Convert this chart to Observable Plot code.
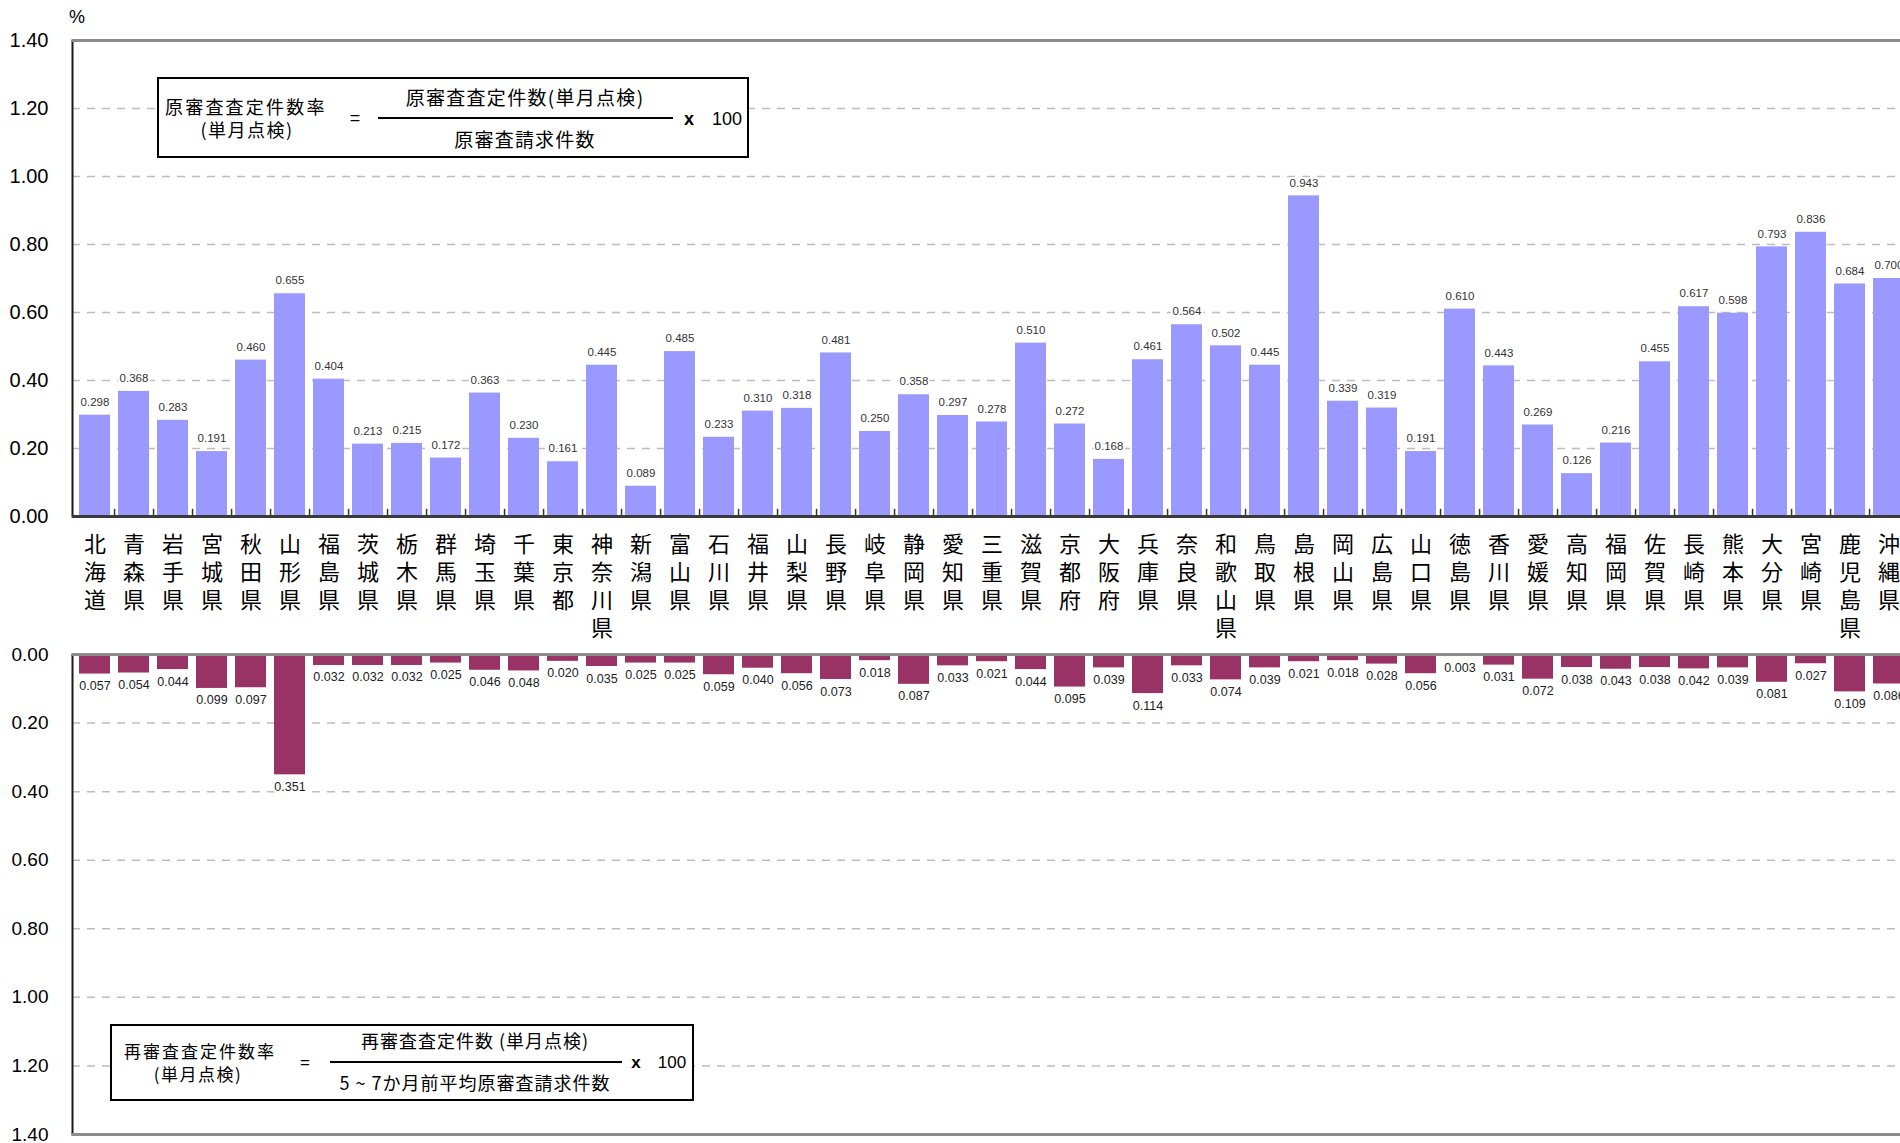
<!DOCTYPE html>
<html><head><meta charset="utf-8">
<script src="https://cdn.jsdelivr.net/npm/d3@7"></script>
<script src="https://cdn.jsdelivr.net/npm/@observablehq/plot@0.6"></script>
<style>
body{margin:0;overflow:hidden;background:#fff;}
#wrap{position:relative;width:1900px;height:1143px;overflow:hidden;font-family:"Liberation Sans",Arial,"Noto Sans CJK JP",sans-serif;color:#000;}
#wrap svg{position:absolute;left:0;}
.abs{position:absolute;white-space:nowrap;line-height:1;}
.c{transform:translate(-50%,-50%);}
.l{transform:translate(0,-50%);}
.jp{font-family:"Noto Sans CJK JP",sans-serif;}
.box{position:absolute;border:2px solid #000;background:#fff;box-sizing:border-box;}
.bar{position:absolute;background:#000;height:2px;}
</style></head>
<body><div id="wrap"></div>
<script>
const prefectures = ["北海道","青森県","岩手県","宮城県","秋田県","山形県","福島県","茨城県","栃木県","群馬県","埼玉県","千葉県","東京都","神奈川県","新潟県","富山県","石川県","福井県","山梨県","長野県","岐阜県","静岡県","愛知県","三重県","滋賀県","京都府","大阪府","兵庫県","奈良県","和歌山県","鳥取県","島根県","岡山県","広島県","山口県","徳島県","香川県","愛媛県","高知県","福岡県","佐賀県","長崎県","熊本県","大分県","宮崎県","鹿児島県","沖縄県"];
const originalRate = [0.298,0.368,0.283,0.191,0.460,0.655,0.404,0.213,0.215,0.172,0.363,0.230,0.161,0.445,0.089,0.485,0.233,0.310,0.318,0.481,0.250,0.358,0.297,0.278,0.510,0.272,0.168,0.461,0.564,0.502,0.445,0.943,0.339,0.319,0.191,0.610,0.443,0.269,0.126,0.216,0.455,0.617,0.598,0.793,0.836,0.684,0.700];
const reviewRate = [0.057,0.054,0.044,0.099,0.097,0.351,0.032,0.032,0.032,0.025,0.046,0.048,0.020,0.035,0.025,0.025,0.059,0.040,0.056,0.073,0.018,0.087,0.033,0.021,0.044,0.095,0.039,0.114,0.033,0.074,0.039,0.021,0.018,0.028,0.056,0.003,0.031,0.072,0.038,0.043,0.038,0.042,0.039,0.081,0.027,0.109,0.086];
const yTicks = [0,0.2,0.4,0.6,0.8,1.0,1.2,1.4];
const gridTicks = [0.2,0.4,0.6,0.8,1.0,1.2];

const data = prefectures.map((p,i)=>({name:p, orig:originalRate[i], rev:reviewRate[i]}));

const W = 1900, ML = 72, MR = -10, PI = 0.215, PO = 0.1;
const step = (W - MR - ML) / (prefectures.length - PI + 2*PO);
const xOpt = {domain: prefectures, paddingInner: PI, paddingOuter: PO, align: 0.5, axis: null};
const numFont = '"Liberation Sans", Arial, sans-serif';
const fmt2 = d3.format(".2f");
const grid = Plot.ruleY(gridTicks, {stroke:"#bdbdbd", strokeWidth:1.5, strokeDasharray:"8,7"});

const topChart = Plot.plot({
  width: W, height: 640, marginLeft: ML, marginRight: MR, marginTop: 40, marginBottom: 124,
  x: xOpt,
  y: {domain:[0,1.4], axis:null, label:null},
  style: {fontFamily: numFont, background:"transparent", overflow:"visible"},
  marks: [
    grid,
    Plot.barY(data, {x:"name", y:"orig", fill:"#9999FF"}),
    Plot.ruleX(data, {x:"name", y1:0, y2:0.021, dx: step/2, stroke:"#333", strokeWidth:1.5}),
    Plot.frame({stroke:"#1a1a1a", strokeWidth:2}),
    Plot.ruleY([1.4], {stroke:"#8c8c8c", strokeWidth:3}),
    Plot.ruleY([0], {stroke:"#3a3a3a", strokeWidth:3}),
    Plot.text(data, {x:"name", y:"orig", text: d=>d.orig.toFixed(3), dy:-13, fontSize:11.5, fill:"#333", stroke:"white", strokeWidth:4}),
    Plot.text(data, {x:"name", y:0, text: d=>[...d.name].join("\n"), lineAnchor:"top", dy:15, fontSize:22, lineHeight:1.286, fontFamily:'"Noto Sans CJK JP", sans-serif', fill:"#000"}),
    Plot.axisY(yTicks, {tickSize:0, tickPadding:24, tickFormat: fmt2, fontSize:20, fill:"#000", label:null})
  ]
});

const bottomChart = Plot.plot({
  width: W, height: 503, marginLeft: ML, marginRight: MR, marginTop: 14, marginBottom: 9,
  x: xOpt,
  y: {domain:[0,1.4], reverse:true, axis:null, label:null},
  style: {fontFamily: numFont, background:"transparent", overflow:"visible"},
  marks: [
    grid,
    Plot.barY(data, {x:"name", y:"rev", fill:"#993366"}),
    Plot.frame({stroke:"#1a1a1a", strokeWidth:2}),
    Plot.ruleY([0], {stroke:"#8c8c8c", strokeWidth:3}),
    Plot.ruleY([1.4], {stroke:"#8c8c8c", strokeWidth:3}),
    Plot.text(data, {x:"name", y:"rev", text: d=>d.rev.toFixed(3), dy:12, fontSize:12.5, fill:"#222", stroke:"white", strokeWidth:4}),
    Plot.axisY(yTicks, {tickSize:0, tickPadding:24, tickFormat: fmt2, fontSize:19, fill:"#000", label:null})
  ]
});

const wrap = document.getElementById("wrap");
topChart.style.top = "0px";
bottomChart.style.top = "640px";
wrap.appendChild(topChart);
wrap.appendChild(bottomChart);

function addText(txt, x, y, size, cls, extra){
  const d = document.createElement("div");
  d.className = "abs " + cls;
  d.textContent = txt;
  d.style.left = x + "px"; d.style.top = y + "px"; d.style.fontSize = size + "px";
  if (extra) Object.assign(d.style, extra);
  wrap.appendChild(d);
}
function addBox(x, y, w, h){
  const d = document.createElement("div");
  d.className = "box";
  Object.assign(d.style, {left:x+"px", top:y+"px", width:w+"px", height:h+"px"});
  wrap.appendChild(d);
}
function addLine(x, y, w){
  const d = document.createElement("div");
  d.className = "bar";
  Object.assign(d.style, {left:x+"px", top:y+"px", width:w+"px"});
  wrap.appendChild(d);
}

addText("%", 77, 17, 18, "c");

// top formula box
addBox(157, 77, 592, 81);
addText("原審査査定件数率", 165, 106, 18, "l jp", {letterSpacing:"2.2px"});
addText("(単月点検)", 247, 128.5, 18, "c jp", {letterSpacing:"1.5px"});
addText("=", 355, 118, 18, "c");
addLine(378, 116.5, 295);
addText("原審査査定件数(単月点検)", 525, 96, 19, "c jp", {letterSpacing:"1.3px"});
addText("原審査請求件数", 525, 138, 19, "c jp", {letterSpacing:"1.2px"});
addText("x", 689, 119, 18, "c", {fontWeight:"bold"});
addText("100", 727, 119, 18, "c");

// bottom formula box
addBox(110, 1024, 584, 77);
addText("再審査査定件数率", 124, 1050, 17, "l jp", {letterSpacing:"2px"});
addText("(単月点検)", 198, 1072.5, 17, "c jp", {letterSpacing:"1.5px"});
addText("=", 305, 1062, 17, "c");
addLine(330, 1060.5, 292);
addText("再審査査定件数 (単月点検)", 475, 1040, 18, "c jp", {letterSpacing:"1px"});
addText("5 ~ 7か月前平均原審査請求件数", 475, 1082, 18, "c jp", {letterSpacing:"1px"});
addText("x", 636, 1062, 17, "c", {fontWeight:"bold"});
addText("100", 672, 1062, 17, "c");
</script>
</body></html>
